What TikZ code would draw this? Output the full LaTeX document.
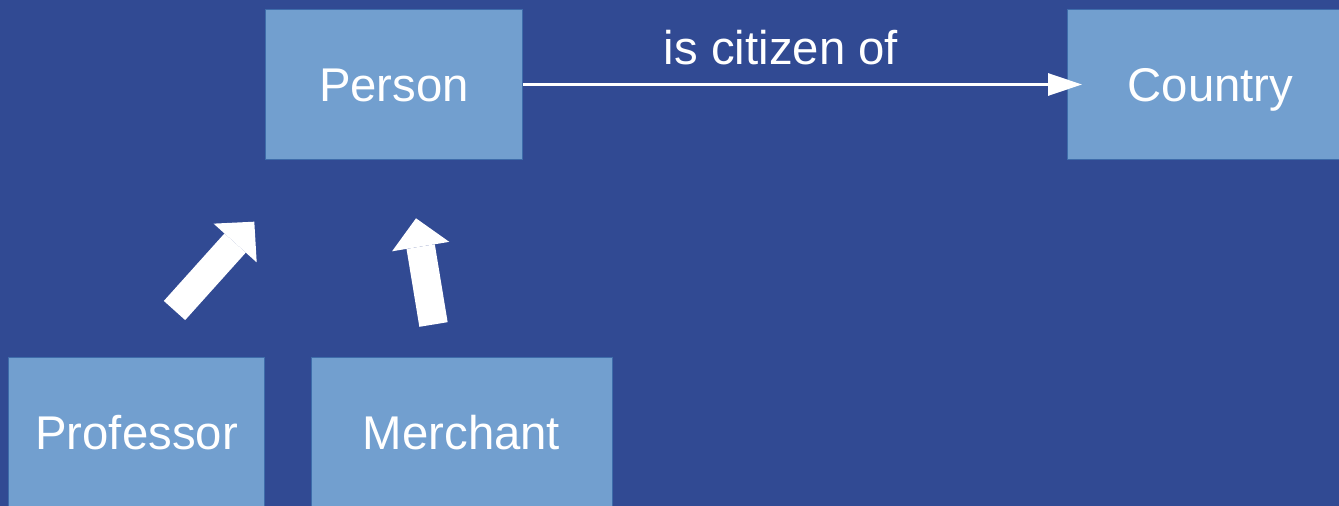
\documentclass[tikz,border=0pt]{standalone}
\usepackage{fontspec}
\setmainfont{Liberation Sans}
\usetikzlibrary{arrows.meta}

\definecolor{slidebg}{RGB}{49,74,147}
\definecolor{boxfill}{RGB}{114,159,207}
\definecolor{boxline}{RGB}{62,108,170}

\tikzset{
  classbox/.style={draw=boxline, line width=0.75pt, fill=boxfill, text=white, inner sep=0pt,
    minimum height=112.5pt, text height=25.5pt, text depth=0pt, font=\fontsize{35.5}{40}\selectfont},
  rellabel/.style={text=white, inner sep=0pt, font=\fontsize{35.5}{40}\selectfont},
  relarrow/.style={draw=white, line width=2.25pt, -{Triangle[width=16.5pt,length=25.5pt]}},
  isaarrow/.style={draw=white, line width=21.5pt, -{Triangle[width=43.5pt,length=21.5pt,line width=0pt]}}
}

\begin{document}
\begin{tikzpicture}[x=0.75pt,y=0.75pt,yscale=-1,xscale=1]

\fill[slidebg] (0,0) rectangle (1339,506);
\useasboundingbox (0,0) rectangle (1339,506);

\node[classbox, minimum width=192.75pt] (person) at (394,84.5) {Person};
\node[classbox, minimum width=214.5pt] (country) at (1210.5,84.5) {Country};
\node[classbox, minimum width=192pt] (professor) at (136.5,432) {Professor};
\node[classbox, minimum width=225.75pt] (merchant) at (461.5,432) {Merchant};

\draw[relarrow] (person.east) -- ([xshift=11.25pt]country.west);
\node[rellabel, anchor=base] (citizenof) at (781,65) {is citizen of};

\coordinate (profTail) at (174.5,310.5);
\coordinate (profTip) at (254.3,221.7);
\coordinate (merchTail) at (433.5,324.5);
\coordinate (merchTip) at (416,218.3);

\draw[isaarrow] (profTail) -- (profTip);
\draw[isaarrow] (merchTail) -- (merchTip);

\end{tikzpicture}
\end{document}
